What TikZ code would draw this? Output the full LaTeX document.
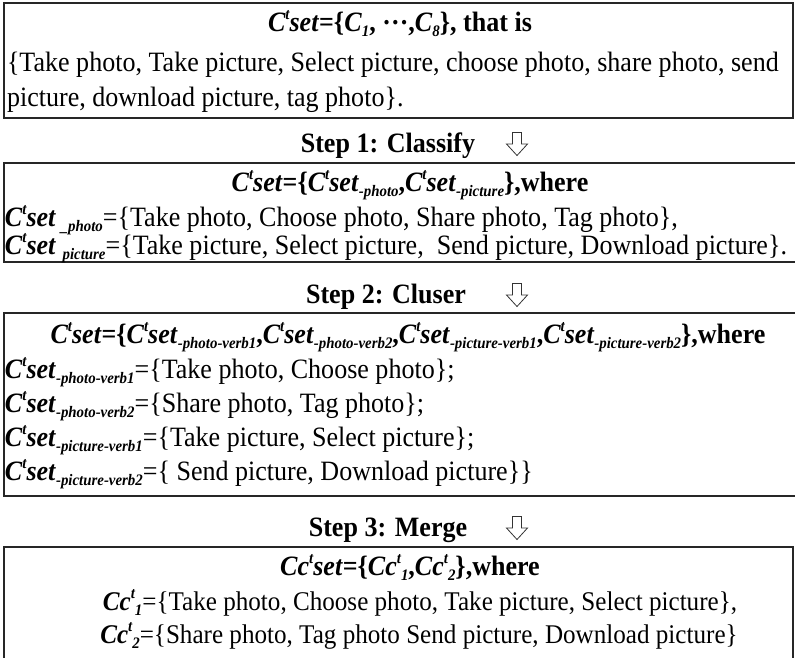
\documentclass[tikz,border=0pt]{standalone}
\usepackage{fontspec}
\setmainfont{Liberation Serif}[FakeStretch=0.93]

% small raised / lowered bold-italic indices
\newcommand\spx[1]{\raisebox{0.42em}{\fontsize{16}{16}\selectfont\bfseries\itshape #1}}
\newcommand\sbx[1]{\raisebox{-0.2em}{\fontsize{16}{16}\selectfont\bfseries\itshape #1}}
\newcommand\CTset{\textbf{\textit{C\spx{t}set}}}
\newcommand\CCt{\textbf{\textit{Cc\spx{t}}}}

\tikzset{
  frame/.style={draw=black!85, line width=1.3pt},
  txt/.style={inner sep=0pt, outer sep=0pt, font=\fontsize{28}{30}\selectfont},
  lft/.style={txt, anchor=base west},
  ctr/.style={txt, anchor=base},
  ctrsmall/.style={inner sep=0pt, outer sep=0pt, anchor=base, font=\fontsize{27}{29}\selectfont},
  steplabel/.style={txt, anchor=base, font=\fontsize{28}{30}\selectfont\bfseries},
  % hollow block arrow pointing down, centred on its position
  downarr/.pic={
    \draw[draw=black!80, fill=white, line width=0.8pt, line join=miter]
      (-4.5,-11.5) -- (4.5,-11.5) -- (4.5,0) -- (10.5,0) -- (0,11.5)
      -- (-10.5,0) -- (-4.5,0) -- cycle;
  }
}

\begin{document}
\begin{tikzpicture}[x=1pt, y=-1pt]
\useasboundingbox (0,0) rectangle (795,657);

% ---- initial set
\draw[frame] (4,3) rectangle (793,118);
\node[ctr] (t1) at (400,31) {\textbf{\textit{C\spx{t}set}=\{\textit{C}\sbx{1}, \raisebox{0.25em}{…},\textit{C}\sbx{8}\}, that is}};
\node[lft] (a1) at (7,71) {\{Take photo, Take picture, Select picture, choose photo, share photo, send};
\node[lft] (a2) at (7,106) {picture, download picture, tag photo\}.};

% ---- step 1
\node[steplabel] (s1) at (388,152) {Step 1: Classify};
\pic at (517,144) {downarr};

\draw[frame] (4,163) rectangle (796,262);
\node[ctr] (t2) at (410,191) {\textbf{\CTset=\{\CTset\sbx{-photo},\CTset\sbx{-picture}\},where}};
\node[lft] (b1) at (5,226) {\CTset\,\sbx{\_photo}=\{Take photo, Choose photo, Share photo, Tag photo\},};
\node[lft] (b2) at (5,254) {\CTset\ \sbx{picture}=\{Take picture, Select picture,\ \ Send picture, Download picture\}.};

% ---- step 2
\node[steplabel] (s2) at (386,303) {Step 2: Cluser};
\pic at (517,295) {downarr};

\draw[frame] (4,313) rectangle (796,496);
\node[ctr] (t3) at (408,343) {\textbf{\CTset=\{\CTset\sbx{-photo-verb1},\CTset\sbx{-photo-verb2},\CTset\sbx{-picture-verb1},\CTset\sbx{-picture-verb2}\},where}};
\node[lft] (c1) at (5,378) {\CTset\sbx{-photo-verb1}=\{Take photo, Choose photo\};};
\node[lft] (c2) at (5,412) {\CTset\sbx{-photo-verb2}=\{Share photo, Tag photo\};};
\node[lft] (c3) at (5,446) {\CTset\sbx{-picture-verb1}=\{Take picture, Select picture\};};
\node[lft] (c4) at (5,480) {\CTset\sbx{-picture-verb2}=\{ Send picture, Download picture\}\}};

% ---- step 3
\node[steplabel] (s3) at (388,536) {Step 3: Merge};
\pic at (517,528) {downarr};

\draw[frame] (4,660) -- (4,547) -- (793,547) -- (793,660);
\node[ctr] (t4) at (410,575) {\textbf{\textit{Cc\spx{t}set}=\{\CCt\sbx{1},\CCt\sbx{2}\},where}};
\node[ctrsmall] (e1) at (420,610) {\CCt\sbx{1}=\{Take photo, Choose photo, Take picture, Select picture\},};
\node[ctrsmall] (e2) at (419,643) {\CCt\sbx{2}=\{Share photo, Tag photo Send picture, Download picture\}};
\end{tikzpicture}
\end{document}
